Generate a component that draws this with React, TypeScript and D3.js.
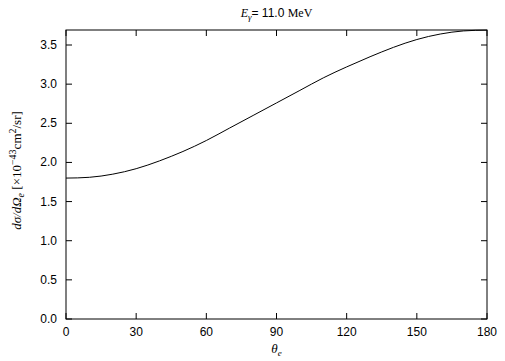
import React from "react";
import * as d3 from "d3";

const angles = [0, 10, 20, 30, 40, 50, 60, 70, 80, 90, 100, 110, 120, 130, 140, 150, 160, 170, 180];
const crossSection = [1.80, 1.81, 1.85, 1.92, 2.02, 2.14, 2.28, 2.44, 2.60, 2.76, 2.92, 3.08, 3.22, 3.35, 3.47, 3.57, 3.64, 3.68, 3.69];
const xTicks = [0, 30, 60, 90, 120, 150, 180];
const yTicks = [0, 0.5, 1.0, 1.5, 2.0, 2.5, 3.0, 3.5];

const W = 505, H = 361;
const L = 66, R = 487, T = 30, B = 319;

export default function App() {
  const x = d3.scaleLinear().domain([0, 180]).range([L, R]);
  const y = d3.scaleLinear().domain([0, 3.5]).range([B, 45]);
  const pts = angles.map((a, i) => [a, crossSection[i]] as [number, number]);
  const line = d3.line<[number, number]>().x(d => x(d[0])).y(d => y(d[1])).curve(d3.curveNatural);
  const tick = 6;
  const sans = "'Liberation Sans', Arial, sans-serif";
  const serif = "'Liberation Serif', 'Times New Roman', serif";
  return (
    <svg width={W} height={H} style={{ position: "absolute", left: 0, top: 0, background: "#fff" }}>
      <rect x={0} y={0} width={W} height={H} fill="#fff" />
      <text x={(L + R) / 2} y={17} textAnchor="middle" fontSize={12} fontFamily={serif}>
        <tspan fontStyle="italic">E</tspan>
        <tspan fontStyle="italic" fontSize={9} dy={3}>γ</tspan>
        <tspan dy={-3} fontFamily={sans}>= 11.0 </tspan>
        <tspan>MeV</tspan>
      </text>
      {xTicks.map(t => (
        <g key={"x" + t}>
          <line x1={x(t)} x2={x(t)} y1={B} y2={B - tick} stroke="#000" />
          <line x1={x(t)} x2={x(t)} y1={T} y2={T + tick} stroke="#000" />
          <text x={x(t)} y={336} textAnchor="middle" fontSize={12} fontFamily={sans}>{t}</text>
        </g>
      ))}
      {yTicks.map(t => (
        <g key={"y" + t}>
          <line x1={L} x2={L + tick} y1={y(t)} y2={y(t)} stroke="#000" />
          <line x1={R} x2={R - tick} y1={y(t)} y2={y(t)} stroke="#000" />
          <text x={57} y={y(t) + 4} textAnchor="end" fontSize={12} fontFamily={sans}>{t.toFixed(1)}</text>
        </g>
      ))}
      <path d={line(pts) || ""} fill="none" stroke="#000" strokeWidth={1} />
      <rect x={L} y={T} width={R - L} height={B - T} fill="none" stroke="#000" strokeWidth={1} />
      <text x={(L + R) / 2} y={353} textAnchor="middle" fontSize={13} fontFamily={serif} fontStyle="italic">
        θ<tspan fontSize={9} dy={3}>e</tspan>
      </text>
      <text transform={`translate(21,${(T + B) / 2 - 4}) rotate(-90)`} textAnchor="middle" fontSize={13} fontFamily={serif}>
        <tspan fontStyle="italic">dσ/dΩ</tspan>
        <tspan fontStyle="italic" fontSize={10} dy={3}>e</tspan>
        <tspan dy={-3}> [×10</tspan>
        <tspan fontSize={10} dy={-5}>−43</tspan>
        <tspan dy={5}>cm</tspan>
        <tspan fontSize={10} dy={-5}>2</tspan>
        <tspan dy={5}>/sr]</tspan>
      </text>
    </svg>
  );
}
